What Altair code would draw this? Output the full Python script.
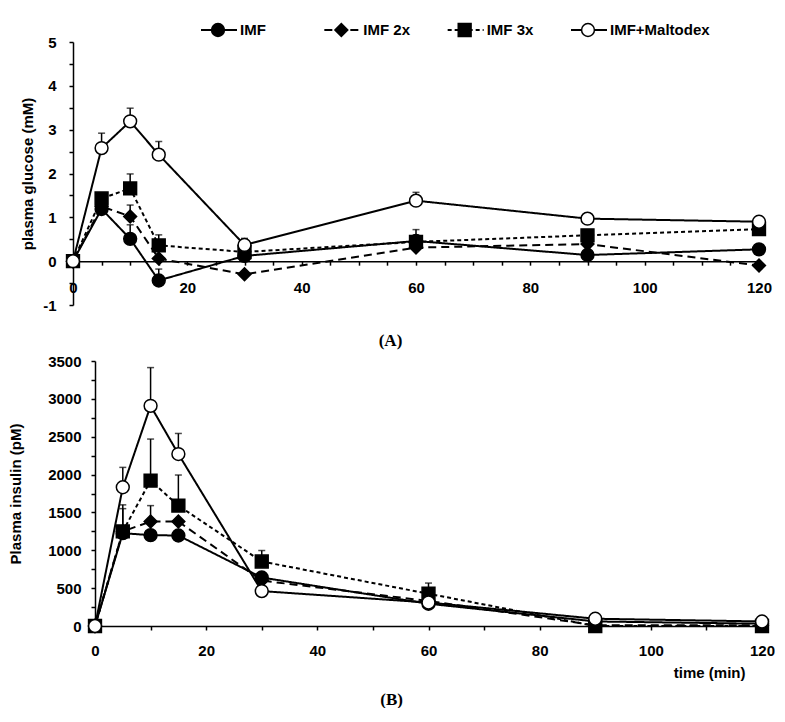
import altair as alt
import pandas as pd

# ---------------- data ----------------
time_min = [0, 5, 10, 15, 30, 60, 90, 120]
series = ["IMF", "IMF 2x", "IMF 3x", "IMF+Maltodex"]

# Panel A: plasma glucose (mM)
glc_imf = [0, 1.19, 0.51, -0.44, 0.12, 0.46, 0.14, 0.27]
glc_2x = [0, 1.25, 1.02, 0.06, -0.30, 0.31, 0.39, -0.10]
glc_3x = [0, 1.43, 1.66, 0.36, 0.21, 0.44, 0.59, 0.73]
glc_malt = [0, 2.58, 3.19, 2.43, 0.37, 1.38, 0.97, 0.90]
# upper end of error bars (None = not visible)
glc_imf_hi = [None, None, 0.83, -0.18, None, None, None, None]
glc_2x_hi = [None, None, 1.28, None, None, None, None, None]
glc_3x_hi = [None, 1.55, 1.99, 0.60, None, 0.72, None, None]
glc_malt_hi = [None, 2.92, 3.49, 2.73, 0.52, 1.57, None, None]

# Panel B: plasma insulin (pM)
ins_imf = [0, 1226, 1200, 1195, 640, 294, 60, 30]
ins_2x = [0, 1250, 1379, 1379, 600, 330, 10, 10]
ins_3x = [0, 1250, 1920, 1590, 852, 426, 0, 0]
ins_malt = [0, 1832, 2908, 2271, 461, 310, 96, 60]
ins_imf_hi = [None, None, None, None, None, None, None, None]
ins_2x_hi = [None, 1550, 1590, None, None, None, None, None]
ins_3x_hi = [None, 1600, 2469, 1994, 997, 567, None, None]
ins_malt_hi = [None, 2095, 3413, 2543, None, None, None, None]


def to_frame(vals, his):
    rows = []
    for s, v, h in zip(series, vals, his):
        for t, a, b in zip(time_min, v, h):
            rows.append({"time": t, "series": s, "value": a, "hi": b})
    return pd.DataFrame(rows)


dfA = to_frame([glc_imf, glc_2x, glc_3x, glc_malt],
               [glc_imf_hi, glc_2x_hi, glc_3x_hi, glc_malt_hi])
dfB = to_frame([ins_imf, ins_2x, ins_3x, ins_malt],
               [ins_imf_hi, ins_2x_hi, ins_3x_hi, ins_malt_hi])
dfLeg = pd.DataFrame({"series": series})

# ---------------- layout / styles ----------------
FONT = "Liberation Sans"
W, H = 689, 584            # whole drawing area (both panels)
A_W, A_H = 686, 263        # panel A plot box (top-left = origin)
B_X0, B_Y0, B_Y1 = 22, 319, 584   # panel B plot box: left, top, bottom

dash_scale = alt.Scale(domain=series, range=[[1, 0], [8, 5], [4, 3], [1, 0]])
shape_scale = alt.Scale(domain=series, range=["circle", "diamond", "square", "circle"])
fill_scale = alt.Scale(domain=series, range=["black", "black", "black", "white"])
size_scale = alt.Scale(domain=series, range=[165, 165, 180, 230])

common = dict(tickSize=4, labelFlush=False, labelOverlap=False, labelBound=False,
              grid=False, tickColor="black", domainColor="black")

y0A = A_H * 5 / 6  # pixel of glucose = 0
xaxisA = alt.Axis(orient="bottom", offset=-(H - y0A), values=list(range(0, 121, 5)),
                  labelExpr="datum.value % 20 == 0 ? '' + datum.value : ''",
                  labelPadding=15, title="(A)", titleFont="Liberation Serif",
                  titleFontSize=17, titleX=317, titleY=79, titleBaseline="middle",
                  titleAlign="center", **common)
yaxisA = alt.Axis(orient="left", values=[v / 2 for v in range(-2, 11)],
                  labelExpr="datum.value % 1 == 0 ? '' + datum.value : ''",
                  labelPadding=13, title="plasma glucose (mM)", titlePadding=7, **common)
xaxisB = alt.Axis(orient="bottom", values=list(range(0, 121, 10)),
                  labelExpr="datum.value % 20 == 0 ? '' + datum.value : ''",
                  labelPadding=13, title="time (min)", titleX=672, titleY=46,
                  titleAlign="right", titleBaseline="middle", **common)
yaxisB = alt.Axis(orient="left", offset=-B_X0, values=list(range(0, 3501, 250)),
                  labelExpr="datum.value % 500 == 0 ? '' + datum.value : ''",
                  labelPadding=10, title="Plasma insulin (pM)", titlePadding=24, **common)


def panel(df, xs, ys, xaxis, yaxis):
    X = alt.X("time:Q", scale=xs, axis=xaxis)
    Y = alt.Y("value:Q", scale=ys, axis=yaxis)
    base = alt.Chart(df)
    err = base.transform_filter("isValid(datum.hi)").mark_rule(
        color="black", strokeWidth=1.5).encode(x=X, y=Y, y2="hi:Q")
    cap = base.transform_filter("isValid(datum.hi)").mark_tick(
        color="black", orient="horizontal", size=7, thickness=1.5).encode(
        x=X, y=alt.Y("hi:Q", scale=ys, axis=yaxis))
    line = base.mark_line(color="black", strokeWidth=2).encode(
        x=X, y=Y,
        strokeDash=alt.StrokeDash("series:N", scale=dash_scale, legend=None))
    pts = base.mark_point(filled=True, stroke="black", strokeWidth=1.5, opacity=1).encode(
        x=X, y=Y,
        shape=alt.Shape("series:N", scale=shape_scale, legend=None),
        fill=alt.Fill("series:N", scale=fill_scale, legend=None),
        size=alt.Size("series:N", scale=size_scale, legend=None))
    return alt.layer(err, cap, line, pts)


panelA = panel(
    dfA,
    alt.Scale(domain=[0, 120], range=[0, A_W], nice=False, zero=False),
    alt.Scale(domain=[-1, 5], range=[A_H, 0], nice=False, zero=False),
    xaxisA, yaxisA)
panelB = panel(
    dfB,
    alt.Scale(domain=[0, 120], range=[B_X0, W], nice=False, zero=False),
    alt.Scale(domain=[0, 3500], range=[B_Y1, B_Y0], nice=False, zero=False),
    xaxisB, yaxisB)

# legend row above panel A
LEG_Y = -12
lx = alt.X("series:N", scale=alt.Scale(type="point", domain=series, range=[145, 515],
                                       padding=0), axis=None)
lb = alt.Chart(dfLeg)
lrule = lb.mark_rule(color="black", strokeWidth=2, xOffset=-17, x2Offset=19).encode(
    x=lx, x2="series:N", y=alt.value(LEG_Y),
    strokeDash=alt.StrokeDash("series:N", scale=dash_scale, legend=None))
lpts = lb.mark_point(filled=True, stroke="black", strokeWidth=1.5, opacity=1).encode(
    x=lx, y=alt.value(LEG_Y),
    shape=alt.Shape("series:N", scale=shape_scale, legend=None),
    fill=alt.Fill("series:N", scale=fill_scale, legend=None),
    size=alt.Size("series:N", scale=size_scale, legend=None))
ltxt = lb.mark_text(align="left", baseline="middle", dx=22, font=FONT, fontSize=15,
                    fontWeight="bold", color="black").encode(
    x=lx, y=alt.value(LEG_Y), text="series:N")
legend = alt.layer(lrule, lpts, ltxt)

chart = alt.layer(panelA, panelB, legend).resolve_scale(
    x="independent", y="independent"
).resolve_axis(
    x="independent", y="independent"
).properties(
    width=W, height=H,
    padding={"left": 0, "top": 12, "right": 0, "bottom": 0},
    title=alt.TitleParams("(B)", orient="bottom", anchor="middle", frame="bounds",
                          font="Liberation Serif", fontSize=17, fontWeight="bold",
                          color="black", offset=12),
).configure_axis(
    domainWidth=1.5, tickWidth=1.5,
    labelFont=FONT, labelFontSize=15, labelFontWeight="bold", labelColor="black",
    titleFont=FONT, titleFontSize=15, titleFontWeight="bold", titleColor="black"
).configure_view(stroke=None)

chart.save("out.html", embed_options={"renderer": "svg", "actions": False})
